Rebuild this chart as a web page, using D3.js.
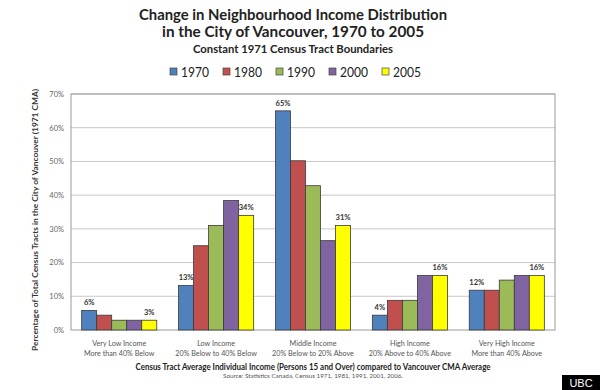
<!DOCTYPE html>
<html><head><meta charset="utf-8">
<script src="https://cdn.jsdelivr.net/npm/d3@7/dist/d3.min.js"></script>
<style>body{margin:0;background:#fff}svg{display:block}</style>
</head><body><svg id="c" width="600" height="390"></svg>
<script>
const categories = [
  ["Very Low Income","More than 40% Below"],
  ["Low Income","20% Below to 40% Below"],
  ["Middle Income","20% Below to 20% Above"],
  ["High Income","20% Above to 40% Above"],
  ["Very High Income","More than 40% Above"]
];
const years = ["1970","1980","1990","2000","2005"];
const v1970 = [5.8, 13.2, 65.0, 4.4, 11.8];
const v1980 = [4.4, 25.0, 50.2, 8.8, 11.8];
const v1990 = [2.9, 31.0, 42.8, 8.8, 14.8];
const v2000 = [2.9, 38.4, 26.5, 16.2, 16.2];
const v2005 = [2.9, 34.0, 31.0, 16.2, 16.2];
const barLabels = [
  {cat:0, year:"1970", text:"6%"}, {cat:0, year:"2005", text:"3%"},
  {cat:1, year:"1970", text:"13%"}, {cat:1, year:"2005", text:"34%"},
  {cat:2, year:"1970", text:"65%"}, {cat:2, year:"2005", text:"31%"},
  {cat:3, year:"1970", text:"4%"}, {cat:3, year:"2005", text:"16%"},
  {cat:4, year:"1970", text:"12%"}, {cat:4, year:"2005", text:"16%"}
];
const yTicks = [0,10,20,30,40,50,60,70];
const colors = ["#4F81BD","#C0504D","#9BBB59","#8064A2","#FFFF00"];

const series = [v1970,v1980,v1990,v2000,v2005];
const svg = d3.select("#c");
const font = "Lato, 'Open Sans', sans-serif";
const m = {l:71, r:555, t:94, b:330};

const x0 = d3.scaleBand().domain(d3.range(categories.length)).range([m.l, m.r]).paddingInner(0.225).paddingOuter(0.11);
const x1 = d3.scaleBand().domain(years).range([0, x0.bandwidth()]);
const y = d3.scaleLinear().domain([0,70]).range([m.b, m.t]);

function fitText(sel, w){ sel.attr("textLength", w).attr("lengthAdjust","spacingAndGlyphs"); }
svg.append("text").attr("x",293).attr("y",20).attr("text-anchor","middle").attr("font-family",font).attr("font-weight","bold").attr("font-size",15).attr("fill","#222").text("Change in Neighbourhood Income Distribution").call(fitText,308);
svg.append("text").attr("x",293).attr("y",37).attr("text-anchor","middle").attr("font-family",font).attr("font-weight","bold").attr("font-size",15).attr("fill","#222").text("in the City of Vancouver, 1970 to 2005").call(fitText,262);
svg.append("text").attr("x",293).attr("y",53).attr("text-anchor","middle").attr("font-family",font).attr("font-weight","bold").attr("font-size",11).attr("fill","#222").text("Constant 1971 Census Tract Boundaries").call(fitText,200);

// legend
const lg = svg.append("g");
years.forEach((yr,i)=>{
  const lx = 170 + i*53;
  lg.append("rect").attr("x",lx).attr("y",68).attr("width",7).attr("height",7).attr("fill",colors[i]).attr("stroke","#444").attr("stroke-width",0.7);
  lg.append("text").attr("x",lx+11).attr("y",76.5).attr("font-family",font).attr("font-size",13).attr("fill","#222").text(yr).call(fitText,28);
});

// gridlines
const g = svg.append("g");
g.selectAll("line.grid").data(yTicks.slice(1)).join("line").attr("class","grid")
  .attr("x1",m.l).attr("x2",m.r).attr("y1",d=>y(d)).attr("y2",d=>y(d))
  .attr("stroke","#c8c8c8").attr("stroke-width",1);
svg.append("rect").attr("x",m.l).attr("y",m.t).attr("width",m.r-m.l).attr("height",m.b-m.t).attr("fill","none").attr("stroke","#999").attr("stroke-width",1);

// y axis
const yAxis = d3.axisLeft(y).tickValues(yTicks).tickFormat(d=>d+"%").tickSize(0).tickPadding(7);
const ya = svg.append("g").attr("transform",`translate(${m.l},0)`).call(yAxis);
ya.select(".domain").remove();
ya.selectAll("text").attr("font-family",font).attr("font-size",7.5).attr("fill","#666");

// bars
const bars = svg.append("g");
categories.forEach((c,ci)=>{
  years.forEach((yr,si)=>{
    const v = series[si][ci];
    bars.append("rect").attr("x",x0(ci)+x1(yr)).attr("y",y(v)).attr("width",x1.bandwidth()).attr("height",y(0)-y(v))
      .attr("fill",colors[si]).attr("stroke","#3a3a3a").attr("stroke-width",0.8);
  });
});
barLabels.forEach(b=>{
  const si = years.indexOf(b.year);
  const v = series[si][b.cat];
  svg.append("text").attr("x",x0(b.cat)+x1(b.year)+x1.bandwidth()/2).attr("y",y(v)-5).attr("text-anchor","middle")
    .attr("font-family",font).attr("font-weight","bold").attr("font-size",7.5).attr("fill","#333").text(b.text);
});

// x category labels
categories.forEach((c,ci)=>{
  const cx = x0(ci)+x0.bandwidth()/2;
  c.forEach((t,li)=>{
    svg.append("text").attr("x",cx).attr("y",345.5+li*10).attr("text-anchor","middle").attr("font-family",font).attr("font-size",7.2).attr("fill","#555").text(t);
  });
});

svg.append("text").attr("x",313).attr("y",369.5).attr("text-anchor","middle").attr("font-family",font).attr("font-weight","bold").attr("font-size",8.5).attr("fill","#222").text("Census Tract Average Individual Income (Persons 15 and Over) compared to Vancouver CMA Average").call(fitText,355);
svg.append("text").attr("x",313).attr("y",378).attr("text-anchor","middle").attr("font-family",font).attr("font-size",6.3).attr("fill","#555").text("Source: Statistics Canada, Census 1971, 1981, 1991, 2001, 2006.").call(fitText,180);
svg.append("text").attr("transform",`translate(38,${(m.t+m.b)/2+8}) rotate(-90)`).attr("text-anchor","middle").attr("font-family",font).attr("font-weight","bold").attr("font-size",7.5).attr("fill","#333").text("Percentage of Total Census Tracts in the City of Vancouver (1971 CMA)").call(fitText,262);

svg.append("rect").attr("x",562).attr("y",375).attr("width",38).attr("height",15).attr("fill","#000");
svg.append("text").attr("x",581).attr("y",387).attr("text-anchor","middle").attr("font-family","Arial, 'Liberation Sans', sans-serif").attr("font-size",11).attr("fill","#fff").text("UBC");
</script></body></html>
